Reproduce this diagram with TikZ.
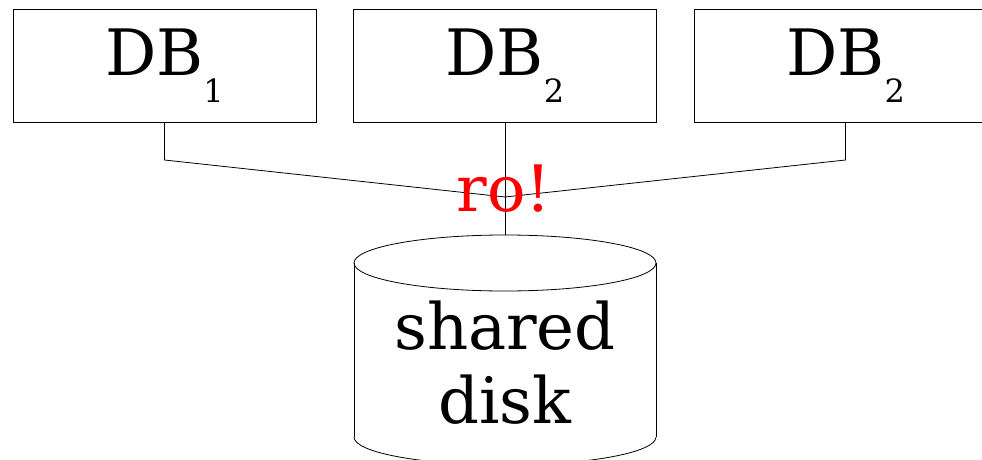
\documentclass[tikz,border=0pt]{standalone}
\usepackage{fontspec}
\setmainfont{DejaVu Serif}
\begin{document}
\begin{tikzpicture}[x=1pt,y=-1pt,
  dbbox/.style={draw=black,line width=0.8pt,minimum width=303pt,minimum height=113pt,inner sep=0pt,outer sep=0pt,
    font=\fontsize{64}{74}\selectfont},
  conn/.style={draw=black,line width=0.8pt},
  bigtext/.style={font=\fontsize{64}{74}\selectfont,inner sep=0pt,align=center}]
\clip (0,0) rectangle (982,460);
\fill[white] (0,0) rectangle (982,460);
\newcommand{\dbsub}[1]{DB\raisebox{-0.42em}{\fontsize{32}{32}\selectfont #1}}
\node[dbbox] (b1) at (164.5,65.5) {\dbsub{1}};
\node[dbbox] (b2) at (505,65.5) {\dbsub{2}};
\node[dbbox] (b3) at (845.5,65.5) {\dbsub{2}};
% cylinder
\coordinate (dtop) at (505,235);
\draw[line width=0.8pt] (505,263) ellipse (151 and 28);
\draw[line width=0.8pt] (354,263) -- (354,437) (656,263) -- (656,437);
\begin{scope}
\clip (340,437) rectangle (670,500);
\draw[line width=0.8pt] (505,437) ellipse (151 and 28);
\end{scope}
\node[bigtext] (disk) at (505,363) {shared\\disk};
% connectors
\coordinate (m) at (505,197);
\coordinate (e1) at (164.5,160);
\coordinate (e3) at (845.5,160);
\draw[conn] (b1.south) -- (e1) -- (m);
\draw[conn] (b3.south) -- (e3) -- (m);
\draw[conn] (b2.south) -- (dtop);
\node[bigtext,text=red,anchor=base] (ro) at (504,211) {ro!};
\end{tikzpicture}
\end{document}
